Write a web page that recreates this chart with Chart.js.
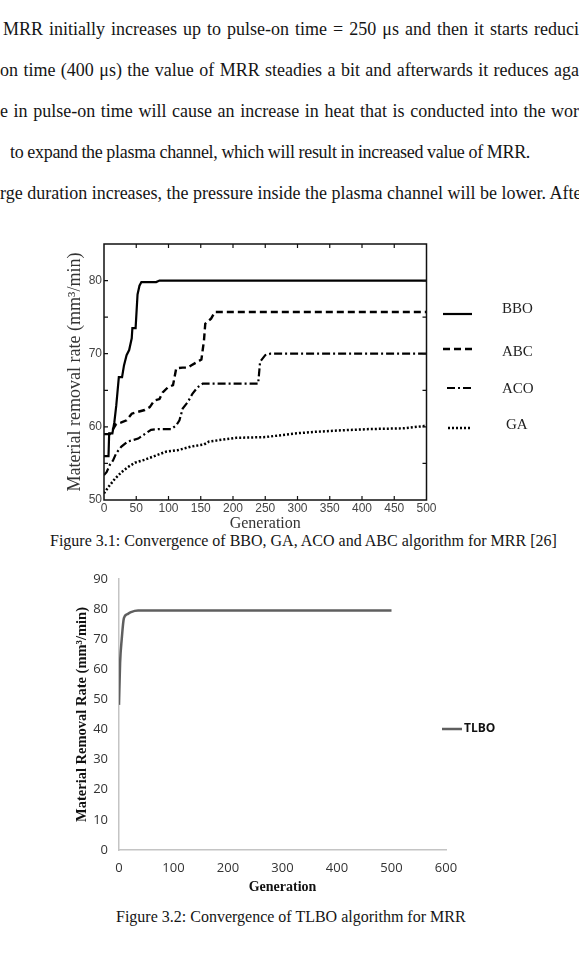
<!DOCTYPE html>
<html lang="en">
  <head>
    <meta charset="utf-8" />
    <style>
      * {
        margin: 0;
        padding: 0;
      }
      body {
        width: 579px;
        height: 978px;
        position: relative;
        overflow: hidden;
        background: #fff;
        color: #151515;
        font-family: "Liberation Serif", "Times New Roman", serif;
      }
      .line {
        position: absolute;
        white-space: nowrap;
        font-family: "Liberation Serif", serif;
        font-size: 18px;
        line-height: 20px;
        text-align: justify;
        text-align-last: justify;
        overflow: hidden;
      }
      .caption {
        position: absolute;
        white-space: nowrap;
        font-family: "Liberation Serif", serif;
        font-size: 16px;
        line-height: 20px;
      }
      canvas {
        position: absolute;
        left: 0;
      }
    </style>
  </head>
  <body>
    <div class="line" style="top:19px;left:3px;width:576px">MRR initially increases up to pulse-on time = 250 μs and then it starts reduci</div>
    <div class="line" style="top:60px;left:0;width:579px">on time (400 μs) the value of MRR steadies a bit and afterwards it reduces aga</div>
    <div class="line" style="top:101px;left:0;width:579px">e in pulse-on time will cause an increase in heat that is conducted into the wor</div>
    <div class="line" style="top:142px;left:10px;width:540px;text-align:left;text-align-last:left;letter-spacing:-0.3px;word-spacing:-0.3px">to expand the plasma channel, which will result in increased value of MRR.</div>
    <div class="line" style="top:183px;left:0;width:579px">rge duration increases, the pressure inside the plasma channel will be lower. Afte</div>

    <canvas id="fig1" width="579" height="300" style="top:230px"></canvas>
    <div class="caption" style="top:531px;left:50px">Figure 3.1: Convergence of BBO, GA, ACO and ABC algorithm for MRR [26]</div>

    <canvas id="fig2" width="579" height="345" style="top:560px"></canvas>
    <div class="caption" style="top:907px;left:116px">Figure 3.2: Convergence of TLBO algorithm for MRR</div>

    <script src="https://cdn.jsdelivr.net/npm/chart.js/dist/chart.umd.min.js"></script>
    <script>
      // figure 3.1
      const bboGen = [0, 7, 8, 13, 16, 19, 23, 28, 31, 35, 39, 43, 44, 49, 52, 55, 58, 81, 86, 500];
      const bboMrr = [56.0, 56.0, 59.1, 59.1, 60.6, 62.9, 66.8, 66.8, 68.4, 69.8, 70.5, 72.1, 73.5, 73.5, 78.1, 79.3, 79.8, 79.8, 80.0, 80.0];

      const abcGen = [0, 9, 14, 19, 27, 35, 43, 50, 63, 71, 78, 86, 91, 99, 107, 112, 122, 130, 135, 145, 151, 155, 157, 162, 166, 172, 500];
      const abcMrr = [59.0, 59.0, 59.7, 60.4, 60.6, 60.9, 61.8, 62.0, 62.3, 62.7, 63.6, 63.8, 64.7, 65.4, 65.7, 68.0, 68.1, 68.1, 68.4, 68.9, 69.2, 71.8, 74.1, 74.5, 74.8, 75.7, 75.7];

      const acoGen = [0, 4, 9, 14, 19, 27, 37, 53, 63, 73, 84, 104, 112, 117, 122, 130, 137, 145, 153, 239, 242, 250, 258, 500];
      const acoMrr = [53.4, 53.8, 54.8, 55.4, 56.4, 57.3, 58.0, 58.4, 59.0, 59.6, 59.7, 59.7, 60.2, 60.9, 62.5, 63.4, 64.5, 65.4, 65.9, 65.9, 68.9, 69.8, 70.0, 70.0];

      const gaGen = [0, 7, 17, 27, 37, 48, 63, 78, 96, 114, 135, 155, 163, 205, 250, 296, 324, 362, 413, 464, 495, 500];
      const gaMrr = [50.9, 51.8, 52.9, 53.8, 54.5, 55.1, 55.5, 56.0, 56.6, 56.8, 57.3, 57.6, 58.0, 58.5, 58.6, 59.1, 59.3, 59.5, 59.7, 59.8, 60.1, 60.2];

      const fig1Names = ["BBO", "ABC", "ACO", "GA"];

      // figure 3.2
      const tlboGen = [0, 2, 5, 9, 15, 22, 35, 500];
      const tlboMrr = [48.2, 62, 70, 77, 78.3, 79, 79.5, 79.5];

      const pts = (xs, ys) => xs.map((x, i) => ({ x: x, y: ys[i] }));

      // frame with inward ticks + the side legend of fig 3.1
      const frame1 = {
        id: "frame1",
        afterDatasetsDraw(chart) {
          const { ctx, chartArea: a, scales } = chart;
          const x = scales.x, y = scales.y;
          ctx.save();
          ctx.strokeStyle = "#111";
          ctx.lineWidth = 1.5;
          ctx.strokeRect(a.left, a.top, a.right - a.left, a.bottom - a.top);
          ctx.lineWidth = 1.2;
          ctx.beginPath();
          for (let g = 50; g < 500; g += 50) {
            const px = x.getPixelForValue(g);
            ctx.moveTo(px, a.bottom); ctx.lineTo(px, a.bottom - 4);
            ctx.moveTo(px, a.top); ctx.lineTo(px, a.top + 4);
          }
          for (let v = 55; v < 85; v += 5) {
            const py = y.getPixelForValue(v);
            ctx.moveTo(a.left, py); ctx.lineTo(a.left + 4, py);
            ctx.moveTo(a.right, py); ctx.lineTo(a.right - 4, py);
          }
          ctx.stroke();

          // legend
          const rows = [
            { ly: 84, ty: 79, x0: 443, x1: 472 },
            { ly: 119, ty: 122, x0: 443, x1: 475 },
            { ly: 158, ty: 159, x0: 447, x1: 473 },
            { ly: 198, ty: 195, x0: 448, x1: 472 }
          ];
          ctx.font = "15px 'Liberation Serif'";
          ctx.textBaseline = "middle";
          ctx.fillStyle = "#222";
          chart.data.datasets.forEach((ds, i) => {
            const r = rows[i];
            ctx.beginPath();
            ctx.setLineDash(ds.borderDash || []);
            ctx.lineWidth = ds.borderWidth;
            ctx.strokeStyle = "#000";
            ctx.moveTo(r.x0, r.ly);
            ctx.lineTo(r.x1, r.ly);
            ctx.stroke();
            ctx.setLineDash([]);
            ctx.fillText(ds.label, i === 3 ? 506 : 502, r.ty);
          });
          ctx.restore();
        }
      };

      new Chart(document.getElementById("fig1"), {
        type: "line",
        data: {
          datasets: [
            { label: fig1Names[0], data: pts(bboGen, bboMrr), borderWidth: 2.2 },
            { label: fig1Names[1], data: pts(abcGen, abcMrr), borderWidth: 2.4, borderDash: [7, 4] },
            { label: fig1Names[2], data: pts(acoGen, acoMrr), borderWidth: 2.2, borderDash: [8, 3, 2, 3] },
            { label: fig1Names[3], data: pts(gaGen, gaMrr), borderWidth: 2.5, borderDash: [2, 2] }
          ].map((d) => Object.assign({ borderColor: "#000", pointRadius: 0, tension: 0 }, d))
        },
        options: {
          responsive: false,
          animation: false,
          layout: { padding: { top: 14, right: 152.5, left: 0, bottom: 0 } },
          plugins: { legend: { display: false }, tooltip: { enabled: false } },
          scales: {
            x: {
              type: "linear",
              min: 0,
              max: 500,
              grid: { display: false, drawTicks: false },
              border: { display: false },
              ticks: {
                stepSize: 50,
                padding: 1,
                maxRotation: 0,
                autoSkip: false,
                color: "#444",
                font: { family: "Liberation Sans", size: 12 }
              },
              title: {
                display: true,
                text: "Generation",
                color: "#333",
                padding: 0,
                font: { family: "Liberation Serif", size: 16, lineHeight: 0.8 }
              },
              afterFit: (s) => { s.height = 30; }
            },
            y: {
              min: 50,
              max: 85,
              grid: { display: false, drawTicks: false },
              border: { display: false },
              ticks: {
                stepSize: 5,
                padding: 2,
                color: "#444",
                font: { family: "Liberation Sans", size: 12 },
                callback: (v) => (v % 10 === 0 ? v : "")
              },
              title: {
                display: true,
                text: "Material removal rate (mm³/min)",
                color: "#333",
                padding: { top: 64, bottom: 0 },
                font: { family: "Liberation Serif", size: 18 }
              },
              afterFit: (s) => { s.width = 104; }
            }
          }
        },
        plugins: [frame1]
      });

      // fig 3.2 legend on the right
      const legend2 = {
        id: "legend2",
        afterDraw(chart) {
          const { ctx } = chart;
          const ds = chart.data.datasets[0];
          ctx.save();
          ctx.strokeStyle = ds.borderColor;
          ctx.lineWidth = ds.borderWidth;
          ctx.beginPath();
          ctx.moveTo(442, 169);
          ctx.lineTo(462, 169);
          ctx.stroke();
          ctx.fillStyle = "#111";
          ctx.font = "bold 12px 'Open Sans'";
          ctx.textBaseline = "middle";
          ctx.fillText(ds.label, 464, 169);
          ctx.restore();
        }
      };

      new Chart(document.getElementById("fig2"), {
        type: "line",
        data: {
          datasets: [
            {
              label: "TLBO",
              data: pts(tlboGen, tlboMrr),
              borderColor: "#5f5f5f",
              borderWidth: 2.5,
              pointRadius: 0,
              cubicInterpolationMode: "monotone"
            }
          ]
        },
        options: {
          responsive: false,
          animation: false,
          layout: { padding: { top: 19, right: 133, left: 0, bottom: 0 } },
          plugins: { legend: { display: false }, tooltip: { enabled: false } },
          scales: {
            x: {
              type: "linear",
              min: 0,
              max: 600,
              grid: { display: false, drawTicks: false },
              border: { color: "#c4c4c4", width: 1.5 },
              ticks: {
                stepSize: 100,
                padding: 10,
                maxRotation: 0,
                color: "#333",
                font: { family: "Open Sans", size: 13 }
              },
              title: {
                display: true,
                text: "Generation",
                color: "#111",
                padding: { top: 0, bottom: 9 },
                font: { family: "Liberation Serif", size: 14, weight: "bold" }
              },
              afterFit: (s) => { s.height = 55; }
            },
            y: {
              min: 0,
              max: 90,
              grid: { display: false, drawTicks: false },
              border: { color: "#c4c4c4", width: 1.5 },
              ticks: {
                stepSize: 10,
                padding: 11,
                color: "#333",
                font: { family: "Open Sans", size: 13 }
              },
              title: {
                display: true,
                text: "Material Removal Rate (mm³/min)",
                color: "#111",
                padding: { top: 74, bottom: 0 },
                font: { family: "Liberation Serif", size: 14.5, weight: "bold" }
              },
              afterFit: (s) => { s.width = 119; }
            }
          }
        },
        plugins: [legend2]
      });
    </script>
  </body>
</html>
